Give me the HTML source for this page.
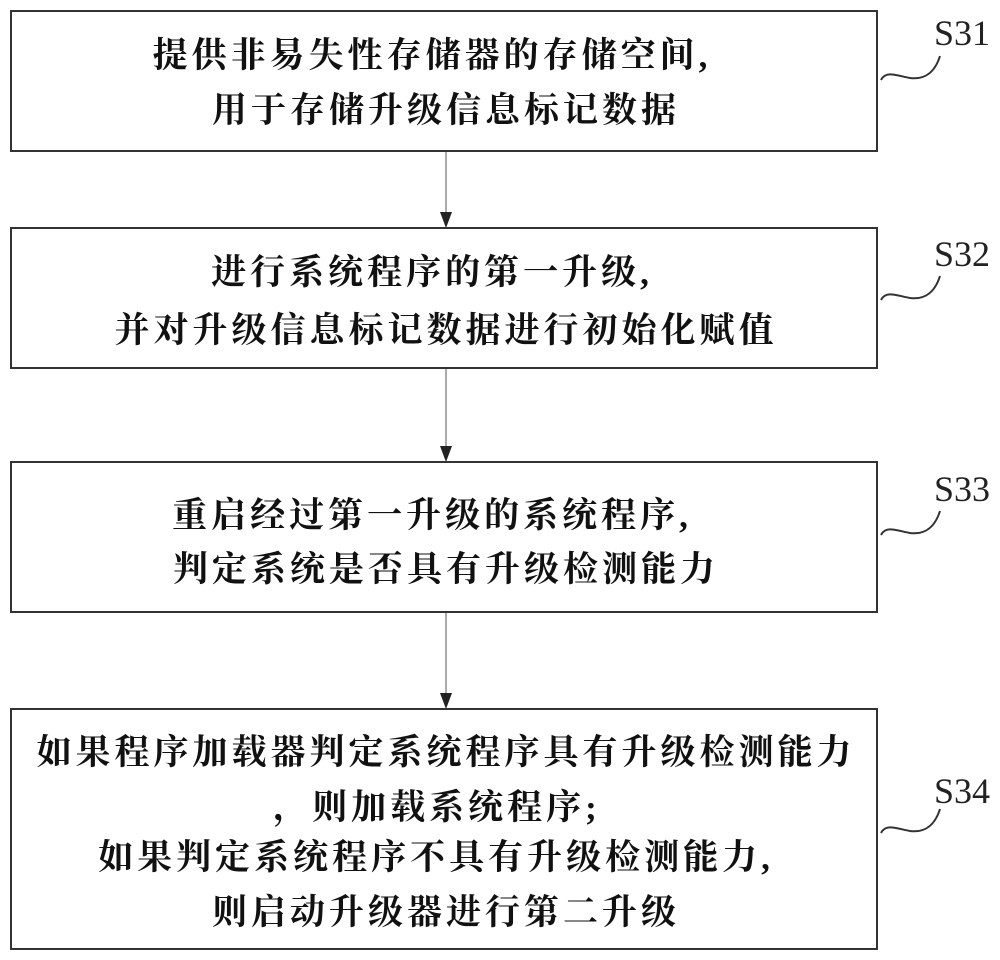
<!DOCTYPE html>
<html><head><meta charset="utf-8"><style>
body{margin:0;background:#fff;width:1000px;height:960px;overflow:hidden;position:relative;font-family:"Liberation Serif","Noto Serif CJK SC",serif;}
.box{position:absolute;left:10px;width:868px;border:2px solid #333;box-sizing:border-box;}
.t{position:absolute;left:10px;width:868px;padding-left:4px;box-sizing:border-box;text-align:center;font-size:35px;letter-spacing:4px;color:#111;font-weight:bold;white-space:nowrap;line-height:40px;}
.c{left:-4px;}
.lab{position:absolute;font-family:"Liberation Serif",serif;font-size:36px;color:#222;}
</style></head><body>
<div class="box" style="top:10px;height:142px"></div>
<div class="box" style="top:227px;height:142px"></div>
<div class="box" style="top:461px;height:152px"></div>
<div class="box" style="top:708px;height:242px"></div>

<div class="t c" style="top:36px">提供非易失性存储器的存储空间,</div>
<div class="t" style="top:91px">用于存储升级信息标记数据</div>
<div class="t c" style="top:253px">进行系统程序的第一升级,</div>
<div class="t" style="top:311px">并对升级信息标记数据进行初始化赋值</div>
<div class="t c" style="top:496px">重启经过第一升级的系统程序,</div>
<div class="t" style="top:550px">判定系统是否具有升级检测能力</div>
<div class="t" style="top:733px">如果程序加载器判定系统程序具有升级检测能力</div>
<div class="t" style="top:788px;left:1px">，则加载系统程序;</div>
<div class="t" style="top:838px;left:0px">如果判定系统程序不具有升级检测能力,</div>
<div class="t" style="top:893px">则启动升级器进行第二升级</div>

<div class="lab" style="left:934px;top:12px">S31</div>
<div class="lab" style="left:934px;top:233px">S32</div>
<div class="lab" style="left:934px;top:468px">S33</div>
<div class="lab" style="left:934px;top:770px">S34</div>

<svg width="1000" height="960" style="position:absolute;left:0;top:0">
<g stroke="#333" stroke-width="2" fill="none">
<path d="M881,80 C886,70 898,76 910,78 C925,80 935,72 940,56"/>
<path d="M881,300 C886,290 898,296 910,298 C925,300 935,292 940,276"/>
<path d="M881,535 C886,525 898,531 910,533 C925,535 935,527 940,511"/>
<path d="M881,833 C886,823 898,829 910,831 C925,833 935,825 940,809"/>
</g>
<g stroke="#555" stroke-width="1">
<line x1="446" y1="152" x2="446" y2="215"/>
<line x1="446" y1="369" x2="446" y2="449"/>
<line x1="446" y1="613" x2="446" y2="696"/>
</g>
<g fill="#222">
<polygon points="440,212 452,212 446,228"/>
<polygon points="440,446 452,446 446,462"/>
<polygon points="440,693 452,693 446,709"/>
</g>
</svg>
</body></html>
